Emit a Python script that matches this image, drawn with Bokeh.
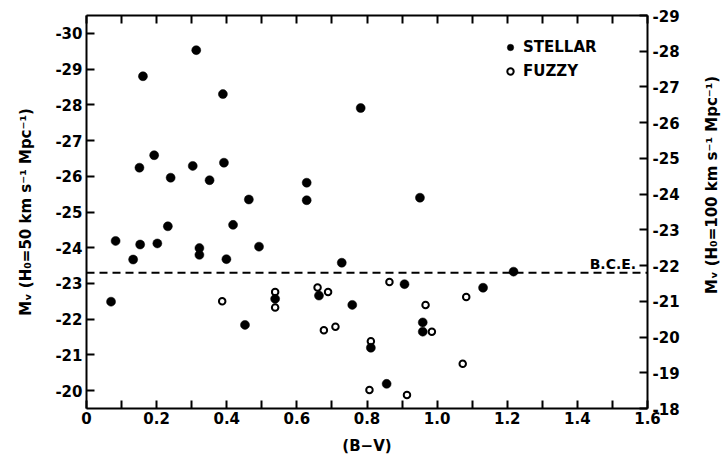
from bokeh.plotting import figure
from bokeh.models import (Range1d, LinearAxis, FixedTicker, Span, Label,
                          Legend, LegendItem)
from bokeh.layouts import row
from bokeh.core.properties import value
from bokeh.embed import file_html
from bokeh.resources import INLINE
import math

# ---------------- data ----------------
stellar_bv = [0.070, 0.083, 0.133, 0.151, 0.153, 0.161, 0.193, 0.202, 0.232,
              0.240, 0.303, 0.313, 0.322, 0.322, 0.351, 0.389, 0.392, 0.399,
              0.418, 0.452, 0.463, 0.492, 0.538, 0.628, 0.628, 0.663, 0.728,
              0.758, 0.782, 0.811, 0.856, 0.907, 0.951, 0.959, 0.959, 1.131,
              1.218]
stellar_mv = [-22.49, -24.19, -23.67, -26.24, -24.09, -28.80, -26.59, -24.12,
              -24.60, -25.96, -26.29, -29.53, -23.99, -23.80, -25.89, -28.30,
              -26.38, -23.68, -24.64, -21.84, -25.35, -24.03, -22.57, -25.82,
              -25.33, -22.66, -23.58, -22.40, -27.91, -21.20, -20.19, -22.98,
              -25.40, -21.91, -21.65, -22.88, -23.33]

fuzzy_bv = [0.387, 0.538, 0.538, 0.659, 0.677, 0.689, 0.710, 0.807, 0.811,
            0.864, 0.914, 0.967, 0.985, 1.073, 1.083]
fuzzy_mv = [-22.50, -22.76, -22.33, -22.89, -21.69, -22.76, -21.79, -20.02,
            -21.38, -23.04, -19.88, -22.40, -21.65, -20.75, -22.62]

bce_mv = -23.3

x_ticks = [0.0, 0.2, 0.4, 0.6, 0.8, 1.0, 1.2, 1.4, 1.6]
x_tick_labels = ["0", "0.2", "0.4", "0.6", "0.8", "1.0", "1.2", "1.4", "1.6"]
x_minor_ticks = [0.1, 0.3, 0.5, 0.7, 0.9, 1.1, 1.3, 1.5]
left_ticks = [-30, -29, -28, -27, -26, -25, -24, -23, -22, -21, -20]
left_tick_labels = ["-30", "-29", "-28", "-27", "-26", "-25", "-24", "-23",
                    "-22", "-21", "-20"]
right_ticks = [-29, -28, -27, -26, -25, -24, -23, -22, -21, -20, -19, -18]
right_tick_labels = ["-29", "-28", "-27", "-26", "-25", "-24", "-23", "-22",
                     "-21", "-20", "-19", "-18"]

left_title = "M\u1d65 (H\u2080=50 km s\u207b\u00b9 Mpc\u207b\u00b9)"
right_title = "M\u1d65 (H\u2080=100 km s\u207b\u00b9 Mpc\u207b\u00b9)"
x_title = "(B\u2212V)"

FONT = "DejaVu Sans"

p = figure(width=700, height=457,
           x_range=Range1d(0, 1.6), y_range=Range1d(-19.5, -30.5),
           output_backend="svg", toolbar_location=None,
           x_axis_location=None, y_axis_location=None,
           min_border_left=86, min_border_right=53,
           min_border_top=15, min_border_bottom=49)
p.extra_y_ranges = {"right": Range1d(-18, -29)}
p.xgrid.visible = False
p.ygrid.visible = False
p.outline_line_color = None
p.background_fill_color = "white"
p.border_fill_color = "white"


def style(ax, size="15px"):
    ax.axis_line_width = 2
    ax.axis_line_color = "black"
    ax.major_tick_line_width = 2
    ax.minor_tick_line_width = 2
    ax.major_tick_in = 8
    ax.major_tick_out = 0
    ax.minor_tick_in = 8
    ax.minor_tick_out = 0
    ax.major_label_text_font = FONT
    ax.major_label_text_font_style = "bold"
    ax.major_label_text_font_size = size
    ax.major_label_text_color = "black"
    ax.axis_label_text_font = FONT
    ax.axis_label_text_font_style = "bold"
    ax.axis_label_text_font_size = "15px"
    ax.axis_label_text_color = "black"


xb = LinearAxis(ticker=FixedTicker(ticks=x_ticks, minor_ticks=x_minor_ticks),
                axis_label=x_title)
style(xb)
xb.major_label_overrides = dict(zip(x_ticks, x_tick_labels))
xb.major_label_standoff = 3
xb.axis_label_standoff = 10
p.add_layout(xb, "below")

# top frame edge with inward ticks, no labels
xt = LinearAxis(ticker=FixedTicker(ticks=x_ticks, minor_ticks=x_minor_ticks))
style(xt)
xt.major_label_overrides = {t: "" for t in x_ticks}
xt.major_label_standoff = 0
p.add_layout(xt, "above")

yl = LinearAxis(ticker=FixedTicker(ticks=left_ticks, minor_ticks=[]),
                axis_label=left_title)
style(yl)
yl.major_label_overrides = dict(zip(left_ticks, left_tick_labels))
yl.major_label_standoff = 4
yl.axis_label_standoff = 17
p.add_layout(yl, "left")

yr = LinearAxis(y_range_name="right",
                ticker=FixedTicker(ticks=right_ticks, minor_ticks=[]))
style(yr)
yr.major_label_overrides = dict(zip(right_ticks, right_tick_labels))
yr.major_label_standoff = 5
p.add_layout(yr, "right")

bce = Span(location=bce_mv, dimension="width", line_color="black",
           line_width=1.8, line_dash="8 5")
p.add_layout(bce)
p.add_layout(Label(x=1.435, y=bce_mv, text="B.C.E.", y_offset=1,
                   text_baseline="bottom", text_font=FONT,
                   text_font_style="bold", text_font_size="14px",
                   text_color="black"))

r_st = p.scatter(stellar_bv, stellar_mv, marker="circle", size=9,
                 fill_color="black", line_color="black", line_width=0.5)
r_fz = p.scatter(fuzzy_bv, fuzzy_mv, marker="circle", size=6.5,
                 fill_color=None, line_color="black", line_width=2)

legend = Legend(items=[LegendItem(label="STELLAR", renderers=[r_st]),
                       LegendItem(label="FUZZY", renderers=[r_fz])],
                location=(416, 328), orientation="vertical",
                glyph_width=16, glyph_height=18, label_height=18,
                spacing=6, padding=0, margin=0, label_standoff=5,
                border_line_color=None, background_fill_alpha=0,
                label_text_font=FONT, label_text_font_style="bold",
                label_text_font_size="15px", label_text_color="black")
p.add_layout(legend)

# narrow strip on the right carrying the right-hand axis title,
# reading bottom to top (y measured in pixels from the strip's bottom)
p2 = figure(width=22, height=457, x_range=Range1d(0, 1),
            y_range=Range1d(0, 457), output_backend="svg",
            toolbar_location=None, x_axis_location=None,
            y_axis_location=None, min_border=0)
p2.xgrid.visible = False
p2.ygrid.visible = False
p2.outline_line_color = None
p2.border_fill_color = "white"
p2.text(x=[0.5], y=[260], text=[right_title], angle=math.pi / 2,
        text_align="center", text_baseline="middle",
        text_font=value(FONT), text_font_style="bold",
        text_font_size="15px", text_color="black")

layout = row(p, p2, spacing=0)

open("out.html", "w").write(file_html(layout, INLINE))
